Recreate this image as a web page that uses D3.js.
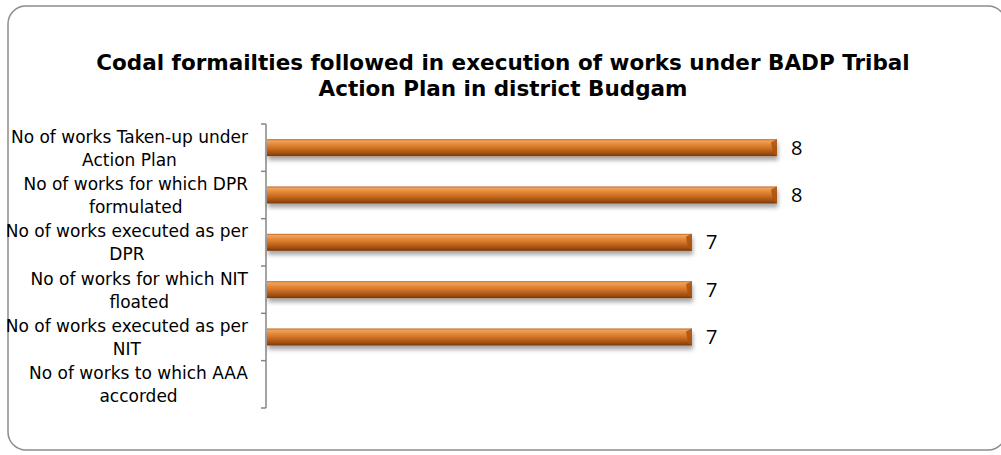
<!DOCTYPE html>
<html>
<head>
<meta charset="utf-8">
<script src="https://cdn.jsdelivr.net/npm/d3@7"></script>
<style>
  body { margin: 0; background: #fff; }
  svg { display: block; }
</style>
</head>
<body>
<script>
// chart data
var categories = [
    ["No of works Taken-up under", "Action Plan"],
    ["No of works for which DPR", "formulated"],
    ["No of works executed as per", "DPR"],
    ["No of works for which NIT", "floated"],
    ["No of works executed as per", "NIT"],
    ["No of works to which AAA", "accorded"]
];
var values = [8, 8, 7, 7, 7, 0];
var titleLines = [
    "Codal formailties followed in execution of works under BADP Tribal",
    "Action Plan in district Budgam"
];

var W = 1001, H = 455;
var svg = d3.select("body").append("svg")
    .attr("width", W)
    .attr("height", H);

var defs = svg.append("defs");

// bar gradient (top light to bottom dark brown)
var grad = defs.append("linearGradient")
    .attr("id", "barGrad")
    .attr("x1", 0).attr("y1", 0).attr("x2", 0).attr("y2", 1);
[[0, "#b9601a"], [0.1, "#f2a35c"], [0.3, "#e4893a"], [0.55, "#cc6e22"],
 [0.85, "#9c4c10"], [1, "#7a3608"]].forEach(function(s) {
    grad.append("stop").attr("offset", s[0]).attr("stop-color", s[1]);
});

// soft shadow under the bars
var shadow = defs.append("filter")
    .attr("id", "shadow")
    .attr("x", "-5%").attr("y", "-50%")
    .attr("width", "110%").attr("height", "250%");
shadow.append("feDropShadow")
    .attr("dx", 1).attr("dy", 4)
    .attr("stdDeviation", 2)
    .attr("flood-color", "#000")
    .attr("flood-opacity", 0.35);

// outer rounded frame
svg.append("rect")
    .attr("x", 8).attr("y", 6)
    .attr("width", 998).attr("height", 444)
    .attr("rx", 18).attr("ry", 18)
    .attr("fill", "#fff")
    .attr("stroke", "#8c8c8c")
    .attr("stroke-width", 1.5);

// title
svg.append("text")
    .attr("x", 503)
    .attr("text-anchor", "middle")
    .style("font-family", "'DejaVu Sans', Verdana, sans-serif")
    .style("font-weight", "bold")
    .style("font-size", "21.5px")
    .style("fill", "#000")
    .selectAll("tspan")
    .data(titleLines)
    .enter()
    .append("tspan")
    .attr("x", 503)
    .attr("y", function(d, i) { return 70 + i * 26; })
    .text(function(d) { return d; });

// scales
var yScale = d3.scaleBand()
    .domain(d3.range(categories.length))
    .range([124, 408]);

var xScale = d3.scaleLinear()
    .domain([2, 10])
    .range([267, 947])
    .clamp(true);

var barH = 17;

// category axis
var axisX = 266;
var yAxis = d3.axisLeft(yScale)
    .tickSize(0)
    .tickFormat("");
var axisG = svg.append("g")
    .attr("transform", "translate(" + axisX + ",0)")
    .call(yAxis);
axisG.select(".domain")
    .attr("stroke", "#868686")
    .attr("stroke-width", 1.5)
    .attr("d", "M0," + yScale.range()[0] + "V" + yScale.range()[1]);

// tick marks at band edges
var edges = d3.range(categories.length + 1).map(function(i) {
    return yScale.range()[0] + i * yScale.step();
});
axisG.selectAll(".edge")
    .data(edges)
    .enter()
    .append("line")
    .attr("class", "edge")
    .attr("x1", -5).attr("x2", 0)
    .attr("y1", function(d) { return d; })
    .attr("y2", function(d) { return d; })
    .attr("stroke", "#868686")
    .attr("stroke-width", 1.5);

// category labels, second line centred under the first
var labelFont = "'DejaVu Sans', Verdana, sans-serif";
categories.forEach(function(lines, i) {
    var cy = yScale(i) + yScale.bandwidth() / 2;
    var t1 = svg.append("text")
        .attr("x", 248)
        .attr("y", cy - 5)
        .attr("text-anchor", "end")
        .style("font-family", labelFont)
        .style("font-size", "17px")
        .style("fill", "#000")
        .text(lines[0]);
    var w = t1.node().getComputedTextLength();
    svg.append("text")
        .attr("x", 248 - w / 2)
        .attr("y", cy + 18)
        .attr("text-anchor", "middle")
        .style("font-family", labelFont)
        .style("font-size", "17px")
        .style("fill", "#000")
        .text(lines[1]);
});

// bars
var bars = svg.selectAll(".bar")
    .data(values)
    .enter()
    .append("g")
    .attr("class", "bar");

bars.append("rect")
    .attr("x", xScale(2))
    .attr("y", function(d, i) { return yScale(i) + yScale.bandwidth() / 2 - barH / 2; })
    .attr("width", function(d) { return xScale(d) - xScale(2); })
    .attr("height", barH)
    .attr("fill", "url(#barGrad)")
    .attr("filter", "url(#shadow)")
    .style("display", function(d) { return xScale(d) > xScale(2) ? null : "none"; });

// bevel facet on the right end
bars.append("path")
    .attr("d", function(d, i) {
        var x1 = xScale(d), y0 = yScale(i) + yScale.bandwidth() / 2 - barH / 2;
        return "M" + (x1 - 6) + "," + (y0 + 3) + "L" + x1 + "," + y0 +
               "L" + x1 + "," + (y0 + barH) + "L" + (x1 - 4) + "," + (y0 + barH - 3) + "Z";
    })
    .attr("fill", "#a9530f")
    .attr("opacity", 0.85)
    .style("display", function(d) { return xScale(d) > xScale(2) ? null : "none"; });

// value labels
bars.filter(function(d) { return d > 0; })
    .append("text")
    .attr("x", function(d) { return xScale(d) + 14; })
    .attr("y", function(d, i) { return yScale(i) + yScale.bandwidth() / 2 + 7; })
    .style("font-family", "'Open Sans', sans-serif")
    .style("font-size", "20px")
    .style("fill", "#000")
    .text(function(d) { return d; });
</script>
</body>
</html>
